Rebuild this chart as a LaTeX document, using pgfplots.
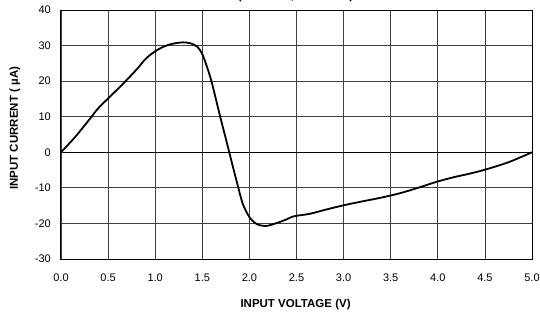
\documentclass[border=0pt]{standalone}
\usepackage{pgfplots}
\pgfplotsset{compat=1.18}
\usepackage{fontspec}
\setmainfont{Liberation Sans}
\begin{document}
\begin{tikzpicture}
\begin{axis}[
  scale only axis, width=471bp, height=249bp,
  xmin=0, xmax=5, ymin=-30, ymax=40,
  xtick={0,0.5,...,5}, ytick={-30,-20,...,40},
  xticklabel style={/pgf/number format/fixed, /pgf/number format/fixed zerofill, /pgf/number format/precision=1, anchor=center, yshift=-19bp},
  /pgf/number format/assume math mode=true,
  ticklabel style={font=\fontsize{11bp}{12bp}\selectfont},
  yticklabel style={anchor=east, inner sep=0pt, xshift=-10bp},
  tick style={draw=none},
  grid=major,
  major grid style={draw=black!75, line width=0.8bp},
  axis line style={black, line width=1bp},
  xlabel={\bfseries INPUT VOLTAGE (V)},
  ylabel={\bfseries INPUT CURRENT ( µA)},
  label style={font=\fontsize{11.5bp}{13bp}\selectfont},
  xlabel style={at={(axis description cs:0.498,-0.1835)}, anchor=center},
  ylabel style={at={(axis description cs:-0.0977,0.525)}, anchor=center},
  clip=false,
]
\addplot[black, line width=1.2bp] coordinates {(0,0) (5,0)};
\addplot[black, line width=1.8bp, smooth, tension=0.5] coordinates {
(0,0) (0.15,4.3) (0.31,9.5) (0.4,12.5) (0.63,18.5) (0.8,23.2) (0.9,26.3) (1.0,28.4) (1.1,29.8) (1.2,30.6) (1.3,30.9) (1.38,30.6) (1.45,29.6) (1.5,27.6) (1.55,24) (1.6,19.7) (1.69,10) (1.75,3.8) (1.81,-2.5) (1.87,-8.7) (1.93,-14.5) (2.0,-18.2) (2.08,-20.2) (2.18,-20.7) (2.3,-19.8) (2.4,-18.8) (2.47,-18) (2.64,-17.3) (2.8,-16.2) (3.0,-14.9) (3.2,-13.8) (3.39,-12.8) (3.6,-11.5) (3.8,-9.9) (4.0,-8.2) (4.17,-7) (4.34,-6) (4.5,-4.9) (4.75,-2.8) (5.0,0)
};
\node[font=\bfseries\fontsize{11.5bp}{13bp}\selectfont, anchor=base] at (rel axis cs:0.498,1) [yshift=10.8bp] {(V\textsubscript{CC} = 5 V, T\textsubscript{A} = 25°C)};
\end{axis}
\pgfresetboundingbox
\path (-61bp,-56bp) rectangle (479bp,259bp);
\end{tikzpicture}
\end{document}
